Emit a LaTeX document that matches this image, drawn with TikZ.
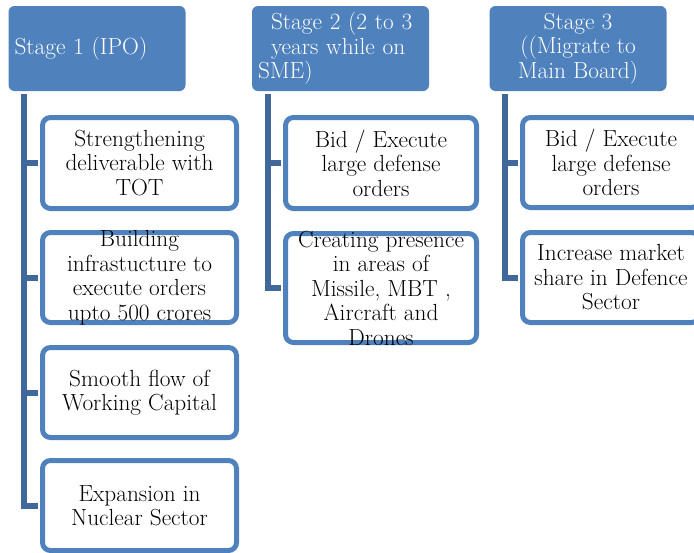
\documentclass[tikz,border=0pt]{standalone}
\usepackage{fontspec}
\usetikzlibrary{positioning}
\definecolor{stageblue}{HTML}{4F81BD}
\definecolor{linkblue}{HTML}{41689A}

\begin{document}
\begin{tikzpicture}[x=1pt, y=-1pt,
    every node/.style={font=\fontsize{23.3}{24.5}\selectfont, inner sep=0pt},
    stage/.style={fill=stageblue, text=white, rounded corners=6pt,
                  minimum width=177pt, minimum height=85pt},
    task/.style={draw=stageblue, line width=5pt, fill=white, rounded corners=8pt,
                 align=center, inner ysep=-14pt, minimum height=91pt},
    link/.style={draw=linkblue, line width=6pt, shorten <=3pt, shorten >=2.5pt}]
  \useasboundingbox (0,0) rectangle (694,552);
  \clip (0,0) rectangle (694,552);
  \fill[white] (0,0) rectangle (694,552);

  % stage headers
  \node[stage, text width=165pt, align=left] (s1) at (97,48.5) {Stage 1 (IPO)};
  \node[stage, text width=165pt, align=left] (s2) at (340.5,48.5)
       {\hspace*{13pt}Stage 2 (2 to 3\\\hspace*{13pt}years while on\\SME)};
  \node[stage, align=center] (s3) at (578,48.5) {Stage 3\\((Migrate to\\Main Board)};

  % stage 1 tasks
  \node[task, minimum width=194pt] (a1) at (139.5,163) {Strengthening\\deliverable with\\TOT};
  \node[task, minimum width=194pt, minimum height=90pt] (a2) at (139.5,277.5)
       {Building\\infrastucture to\\execute orders\\upto 500 crores};
  \node[task, minimum width=194pt, minimum height=90pt] (a3) at (139.5,392.5) {Smooth flow of\\Working Capital};
  \node[task, minimum width=194pt, minimum height=90pt] (a4) at (139.5,505.5) {Expansion in\\Nuclear Sector};

  % stage 2 tasks
  \node[task, minimum width=191pt] (b1) at (381,163) {Bid / Execute\\large defense\\orders};
  \node[task, minimum width=191pt, minimum height=109pt] (b2) at (381,288)
       {Creating presence\\in areas of\\Missile, MBT ,\\Aircraft and\\Drones};

  % stage 3 tasks
  \node[task, minimum width=177pt, minimum height=90pt] (c1) at (611,162.5) {Bid / Execute\\large defense\\orders};
  \node[task, minimum width=177pt, minimum height=90pt] (c2) at (611,277.5)
       {Increase market\\share in Defence\\Sector};

  % connectors
  \draw[link] ([xshift=16pt]s1.south west) |- (a1.west);
  \draw[link] ([xshift=16pt]s1.south west) |- (a2.west);
  \draw[link] ([xshift=16pt]s1.south west) |- (a3.west);
  \draw[link] ([xshift=16pt]s1.south west) |- (a4.west);
  \draw[link] ([xshift=16pt]s2.south west) |- (b1.west);
  \draw[link] ([xshift=16pt]s2.south west) |- (b2.west);
  \draw[link] ([xshift=16pt]s3.south west) |- (c1.west);
  \draw[link] ([xshift=16pt]s3.south west) |- (c2.west);
\end{tikzpicture}
\end{document}
